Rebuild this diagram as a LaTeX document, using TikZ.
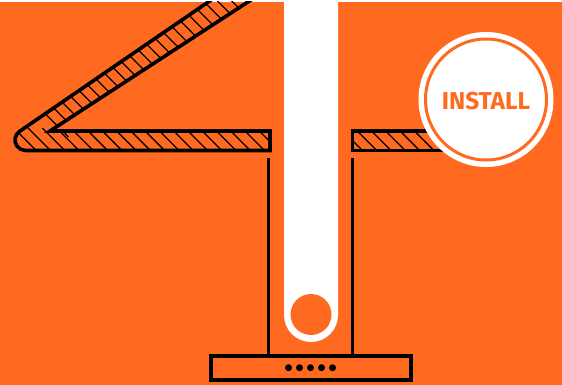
\documentclass[tikz,border=0pt]{standalone}
\usepackage{fontspec}
\setmainfont{Fira Sans}
\definecolor{bgorange}{HTML}{FF6A20}
\tikzset{
  outline/.style={draw=black,line width=3.6pt,line join=miter},
  hatchline/.style={draw=black,line width=1.3pt},
}
\begin{document}
\begin{tikzpicture}[x=1pt,y=-1pt]
\useasboundingbox (0,0) rectangle (562,385);
\fill[white] (0,0) rectangle (562,385);
\fill[bgorange] (0,2) rectangle (562,385);
% white duct
\fill[white] (284,0) -- (338,0) -- (338,315) arc[start angle=0,end angle=180,radius=27] -- cycle;
\fill[bgorange] (311,314.5) circle[radius=20.5];
% left bar with fold
\begin{scope}
\clip (0,2) rectangle (562,385);
\begin{scope}
\clip (270,131) -- (50,131) -- (254,-2) -- (214,-2) -- (19.5,131.4) arc[start angle=235,end angle=90,radius=10.5] -- (270,150.5) -- cycle;
\foreach \i in {-1,0,...,18} \draw[hatchline] ({28+14.27*\i},128) -- ({28+14.27*\i+26},154);
\foreach \i in {0,1,...,26} \draw[hatchline] ({43.5+8.5*\i},{112-5.75*\i}) -- ({43.5+8.5*\i+25},{112-5.75*\i+25});
\end{scope}
\draw[outline] (270,131) -- (50,131) -- (254,-2);
\draw[outline] (214,-2) -- (19.5,131.4) arc[start angle=235,end angle=90,radius=10.5] -- (270,150.5) -- (270,129.2);
\end{scope}
% right bar
\begin{scope}
\clip (352,131) rectangle (450,150);
\foreach \i in {0,1,...,7} \draw[hatchline] ({340+14.27*\i},128) -- ({340+14.27*\i+26},154);
\end{scope}
\draw[outline] (450,131) -- (352.5,131) -- (352.5,150.5) -- (450,150.5);
% chimney
\draw[black,line width=3.8pt] (268.5,158) -- (268.5,356);
\draw[black,line width=3.8pt] (352.5,158) -- (352.5,356);
\draw[outline,fill=bgorange] (211,356) rectangle (411,380);
\foreach \x in {288.5,299.5,310.5,321.5,332.5} \fill[black] (\x,367.7) circle[radius=3.5];
% badge
\node[circle,fill=white,minimum size=135pt,inner sep=0pt] (badge) at (486,99.5) {};
\node[circle,draw=bgorange,line width=3pt,minimum size=121pt,inner sep=0pt] (ring) at (486,99.5) {};
\node[text=bgorange,font=\fontsize{24.4}{24.4}\selectfont\bfseries,inner sep=0pt] (label) at (486,101.5) {INSTALL};
\end{tikzpicture}
\end{document}
